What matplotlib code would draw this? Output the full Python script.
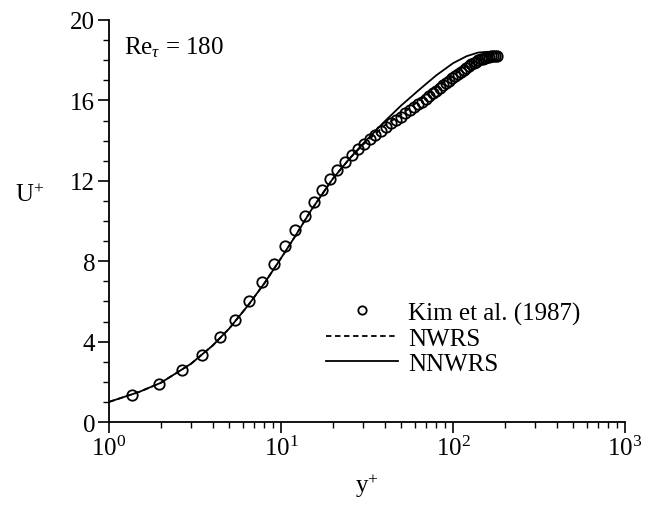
import numpy as np
import matplotlib.pyplot as plt
from matplotlib.ticker import MultipleLocator, LogLocator, NullFormatter

plt.rcParams['font.family'] = ['Liberation Serif', 'DejaVu Serif']
plt.rcParams['mathtext.fontset'] = 'custom'
plt.rcParams['mathtext.rm'] = 'Liberation Serif'
plt.rcParams['mathtext.it'] = 'Liberation Serif:italic'

# Kim et al. (1987) DNS points
kim_y = [1.36, 1.95, 2.66, 3.47, 4.39, 5.4, 6.55, 7.8, 9.1, 10.6, 12.1, 13.7,
         15.5, 17.3, 19.3, 21.3, 23.5, 25.8, 28.1, 30.3, 32.8, 35.4, 38.1,
         40.9, 43.7, 46.6, 49.6, 52.7, 55.9, 59.1, 62.4, 65.8, 69.3, 72.8,
         76.4, 80.0, 83.7, 87.5, 91.3, 95.1, 99.1, 103.0, 107.1, 111.1, 115.2,
         119.4, 123.5, 127.8, 132.0, 136.3, 140.6, 144.9, 149.2, 153.6, 158.0,
         162.4, 166.8, 171.2, 175.6, 180.0]
kim_u = [1.34, 1.90, 2.60, 3.35, 4.22, 5.08, 6.02, 6.98, 7.86, 8.74, 9.55, 10.25,
         10.95, 11.55, 12.08, 12.52, 12.92, 13.28, 13.58, 13.82, 14.06, 14.28,
         14.48, 14.68, 14.86, 15.03, 15.19, 15.35, 15.50, 15.65, 15.80, 15.94,
         16.08, 16.22, 16.36, 16.49, 16.62, 16.75, 16.87, 16.99, 17.11, 17.22,
         17.33, 17.43, 17.53, 17.62, 17.71, 17.79, 17.86, 17.93, 17.99, 18.04,
         18.08, 18.12, 18.15, 18.17, 18.19, 18.20, 18.21, 18.21]

# model curves
nwrs_y = [1.0, 1.5, 2.0, 3.0, 4.0, 5.0, 6.5, 8.0, 10.0, 12.0, 15.0, 20.0,
          25.0, 30.0, 40.0, 50.0, 65.0, 80.0, 100.0, 120.0, 140.0, 160.0, 180.0]
nwrs_u = [1.0, 1.5, 1.95, 2.9, 3.8, 4.65, 5.85, 6.9, 8.15, 9.2, 10.55, 12.1,
          13.1, 13.8, 14.75, 15.3, 16.05, 16.65, 17.25, 17.7, 18.0, 18.18, 18.25]
nnwrs_y = [1.0, 1.5, 2.0, 3.0, 4.0, 5.0, 6.5, 8.0, 10.0, 12.0, 15.0, 20.0,
           25.0, 30.0, 40.0, 50.0, 65.0, 80.0, 100.0, 120.0, 140.0, 160.0, 180.0]
nnwrs_u = [1.0, 1.5, 1.95, 2.9, 3.8, 4.65, 5.85, 6.9, 8.15, 9.2, 10.55, 12.1,
           13.1, 13.85, 14.95, 15.75, 16.6, 17.25, 17.85, 18.2, 18.38, 18.42, 18.35]

fig = plt.figure(figsize=(6.47, 5.06), dpi=100)
ax = fig.add_axes([0.1685, 0.164, 0.7975, 0.7945])

ax.plot(nwrs_y, nwrs_u, color='black', lw=1.3, ls=(0, (3, 2)), label='NWRS')
ax.plot(nnwrs_y, nnwrs_u, color='black', lw=1.3, label='NNWRS')
ax.plot(kim_y, kim_u, ls='none', marker='o', ms=7.5, mfc='none', mec='black',
        mew=1.3, label='Kim et al. (1987)')

ax.set_xscale('log')
ax.set_xlim(1, 1000)
ax.set_ylim(0, 20)
ax.yaxis.set_major_locator(MultipleLocator(4))
ax.yaxis.set_minor_locator(MultipleLocator(1))
ax.xaxis.set_major_locator(LogLocator(base=10))
ax.xaxis.set_minor_locator(LogLocator(base=10, subs=np.arange(2, 10)))
ax.xaxis.set_minor_formatter(NullFormatter())

for s in ['top', 'right']:
    ax.spines[s].set_visible(False)
for s in ['left', 'bottom']:
    ax.spines[s].set_linewidth(1.3)

ax.tick_params(which='major', direction='out', length=8, width=1.2, labelsize=18, pad=2)
ax.tick_params(which='minor', direction='out', length=4, width=1.0)

ax.set_xlabel('y$^{+}$', fontsize=18, labelpad=8)
ax.set_ylabel('U$^{+}$', fontsize=18, rotation=0, va='center', ha='center')
ax.yaxis.set_label_coords(-0.153, 0.567)

ax.text(0.03, 0.965, 'Re$_{τ}$ = 180', transform=ax.transAxes, fontsize=18,
        va='top', ha='left')

h, l = ax.get_legend_handles_labels()
ax.legend([h[2], h[0], h[1]], [l[2], l[0], l[1]], frameon=False, fontsize=18,
          loc='upper left', bbox_to_anchor=(0.42, 0.30), handlelength=2.9,
          handletextpad=0.4, labelspacing=0.1, borderaxespad=0, borderpad=0,
          markerscale=0.8)

fig.savefig('out.png', dpi=100)
